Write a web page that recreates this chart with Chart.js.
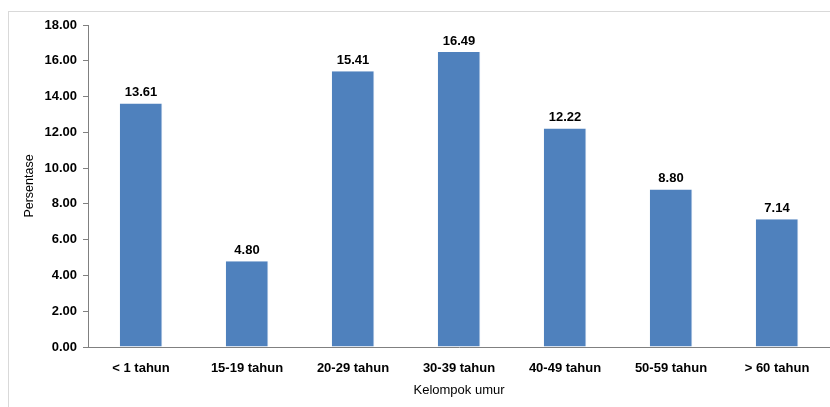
<!DOCTYPE html>
<html>
<head>
<meta charset="utf-8">
<script src="https://cdn.jsdelivr.net/npm/chart.js@4"></script>
<style>
  html, body { margin: 0; padding: 0; background: #fff; overflow: hidden; }
  #frame { position: absolute; left: 8px; top: 11px; width: 900px; height: 500px; border: 1px solid #d9d9d9; }
  #wrap { position: absolute; left: 0; top: 0; width: 830px; height: 407px; }
</style>
</head>
<body>
<div id="frame"></div>
<div id="wrap"><canvas id="myChart"></canvas></div>
<script>
// data
const kelompok = ["< 1 tahun", "15-19 tahun", "20-29 tahun", "30-39 tahun", "40-49 tahun", "50-59 tahun", "> 60 tahun"];
const persentase = [13.61, 4.80, 15.41, 16.49, 12.22, 8.80, 7.14];
const yTicks = [0, 2, 4, 6, 8, 10, 12, 14, 16, 18];

const FONT = "'Liberation Sans', Arial, sans-serif";

// labels above bars
const labelAtas = {
  id: "labelAtas",
  afterDatasetsDraw(chart) {
    const ctx = chart.ctx;
    const meta = chart.getDatasetMeta(0);
    ctx.save();
    ctx.font = "bold 13px " + FONT;
    ctx.fillStyle = "#000";
    ctx.textAlign = "center";
    ctx.textBaseline = "middle";
    meta.data.forEach((bar, i) => {
      ctx.fillText(persentase[i].toFixed(2), bar.x, bar.y - 11);
    });
    ctx.restore();
  }
};

const config = {
  type: "bar",
  data: {
    labels: kelompok,
    datasets: [{
      data: persentase,
      backgroundColor: "#4F81BD",
      borderColor: "#9DB9DC",
      borderWidth: { left: 0, right: 1, top: 0, bottom: 0 },
      categoryPercentage: 1,
      barPercentage: 0.4
    }]
  },
  plugins: [labelAtas],
  options: {
    responsive: true,
    maintainAspectRatio: false,
    animation: false,
    layout: { padding: { left: 0, right: 0, top: 25, bottom: 0 } },
    plugins: {
      legend: { display: false },
      tooltip: { enabled: false }
    },
    scales: {
      x: {
        grid: { display: false, drawTicks: false },
        border: { display: true, color: "#808080", width: 1 },
        ticks: {
          color: "#000",
          font: { family: FONT, size: 13, weight: "bold" },
          padding: 14,
          maxRotation: 0
        },
        title: {
          display: true,
          text: "Kelompok umur",
          color: "#000",
          font: { family: FONT, size: 13 },
          padding: { top: 4, bottom: 9 }
        },
        afterFit(scale) { scale.height = 60; }
      },
      y: {
        min: 0,
        max: 18,
        afterBuildTicks(scale) { scale.ticks = yTicks.map(v => ({ value: v })); },
        grid: { drawOnChartArea: false, drawTicks: true, tickLength: 5, color: "#808080" },
        border: { display: true, color: "#808080", width: 1 },
        ticks: {
          color: "#000",
          font: { family: FONT, size: 13, weight: "bold" },
          padding: 6,
          callback: v => Number(v).toFixed(2)
        },
        title: {
          display: true,
          text: "Persentase",
          color: "#000",
          font: { family: FONT, size: 12.5 },
          padding: { top: 22, bottom: 0 }
        },
        afterFit(scale) { scale.width = 88; }
      }
    }
  }
};

const myChart = new Chart(document.getElementById("myChart"), config);
</script>
</body>
</html>
